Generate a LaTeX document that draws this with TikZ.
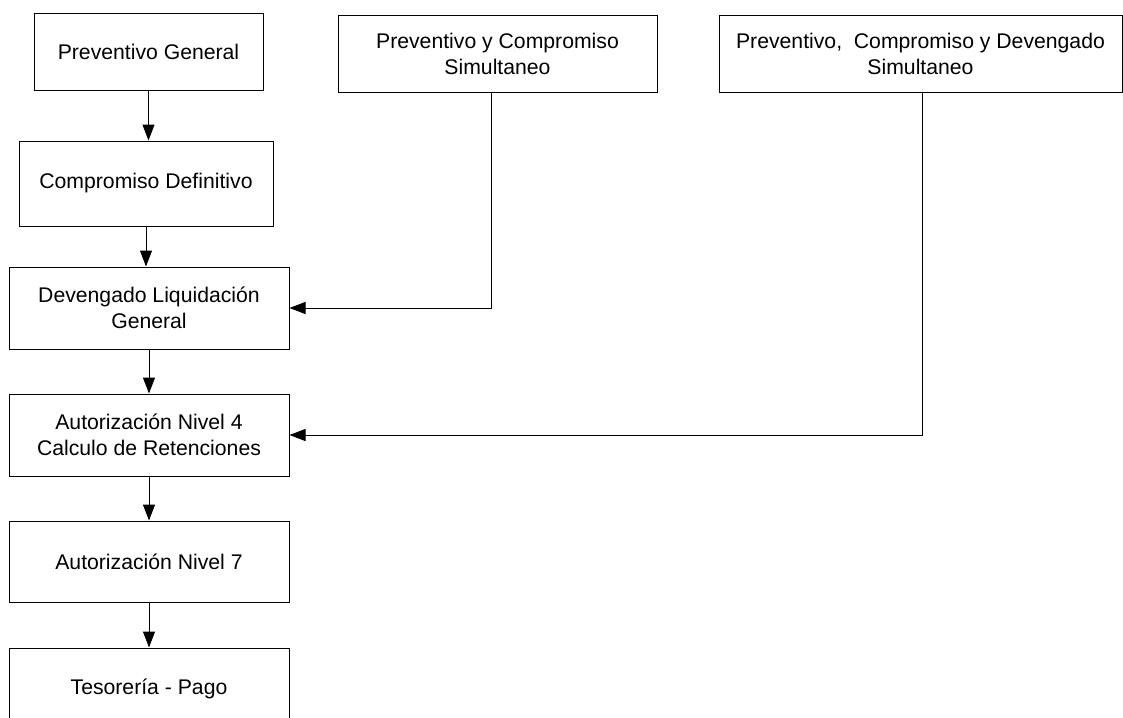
\documentclass[tikz,border=0pt]{standalone}
\usepackage{fontspec}
\setmainfont{Liberation Sans}
\usetikzlibrary{arrows.meta}
\begin{document}
\begin{tikzpicture}[x=1pt,y=-1pt,
  box/.style={draw=black, line width=1pt, fill=white, rectangle, inner sep=0pt,
    align=center, font=\fontsize{21.2}{26}\selectfont},
  arr/.style={draw=black, line width=1pt, -{Triangle[length=16pt,width=12pt]}}]
  \clip (0,0) rectangle (1123,717);
  \fill[white] (0,0) rectangle (1123,717);

  % main column
  \node[box, minimum width=229pt, minimum height=76pt] (pg)  at (148.5,52)  {Preventivo General};
  \node[box, minimum width=254pt, minimum height=85pt] (cd)  at (146,183.5) {Compromiso Definitivo};
  \node[box, minimum width=280pt, minimum height=82pt] (dlg) at (149,308)   {Devengado Liquidación\\General};
  \node[box, minimum width=280pt, minimum height=82pt] (an4) at (149,435)   {Autorización Nivel 4\\Calculo de Retenciones};
  \node[box, minimum width=280pt, minimum height=81pt] (an7) at (149,561.5) {Autorización Nivel 7};
  \node[box, minimum width=280pt, minimum height=82pt] (tp)  at (149,689)   {Tesorería - Pago};

  % simultaneous entry points
  \node[box, minimum width=319pt, minimum height=76pt] (pyc) at (497.5,54) {Preventivo y Compromiso\\Simultaneo};
  \node[box, minimum width=403pt, minimum height=76pt] (pcd) at (920.5,54) {Preventivo,\ \ Compromiso y Devengado\\Simultaneo};

  % flow of the main column
  \draw[arr] (pg.south)  -- (pg.south |- cd.north);
  \draw[arr] (cd.south)  -- (cd.south |- dlg.north);
  \draw[arr] (dlg.south) -- (dlg.south |- an4.north);
  \draw[arr] (an4.south) -- (an4.south |- an7.north);
  \draw[arr] (an7.south) -- (an7.south |- tp.north);

  % side entries
  \draw[arr] ([xshift=-6.5pt]pyc.south) |- (dlg.east);
  \draw[arr] ([xshift=1.5pt]pcd.south) |- (an4.east);
\end{tikzpicture}
\end{document}
